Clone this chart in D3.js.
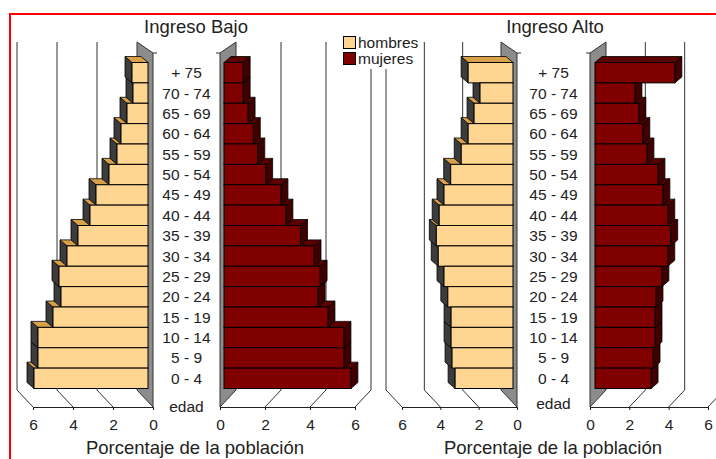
<!DOCTYPE html>
<html><head><meta charset="utf-8">
<script src="https://cdn.jsdelivr.net/npm/d3@7"></script>
<style>
html,body{margin:0;padding:0;background:#fff;}
svg{display:block;font-family:"Liberation Sans",Arial,sans-serif;}
</style></head>
<body><svg id="c" width="716" height="459"></svg>
<script>
const categories = ["+ 75","70 - 74","65 - 69","60 - 64","55 - 59","50 - 54","45 - 49","40 - 44","35 - 39","30 - 34","25 - 29","20 - 24","15 - 19","10 - 14","5 - 9","0 - 4"];
const bajoHombres = [0.8,0.75,1.05,1.35,1.55,1.95,2.6,2.9,3.5,4.05,4.45,4.35,4.75,5.5,5.5,5.7];
const bajoMujeres = [0.85,0.85,1.07,1.3,1.5,1.85,2.53,2.75,3.4,4.0,4.27,4.18,4.62,5.33,5.33,5.64];
const altoHombres = [2.34,1.72,2.03,2.34,2.7,3.25,3.6,3.85,4.0,3.9,3.6,3.4,3.23,3.23,3.18,3.02];
const altoMujeres = [4.06,2.03,2.23,2.43,2.64,3.2,3.45,3.7,3.85,3.7,3.4,3.1,3.05,3.05,2.95,2.85];
const tickValues = [0,2,4,6];
const seriesNames = ["hombres","mujeres"];
const panelTitles = ["Ingreso Bajo","Ingreso Alto"];
const axisTitle = "Porcentaje de la población";
const ageTitle = "edad";

const svg = d3.select("#c");
svg.append("rect").attr("width",716).attr("height",459).attr("fill","#fff");
svg.append("rect").attr("x",10).attr("y",14).attr("width",740).attr("height",480)
  .attr("fill","none").attr("stroke","#f00").attr("stroke-width",2);

const COL = {
  hombres:{front:"#FFD592", side:"#3c3c3c", top:"#D9A04C"},
  mujeres:{front:"#800000", side:"#400000", top:"#5a0000"}
};
const y = d3.scaleBand().domain(categories).range([62.5,388.5]).paddingInner(0).paddingOuter(0);
const WALL_DX = 16, BACK_TOP = 42, FRONT_TOP = 53, BACK_BOTTOM = 390, FLOOR = 407;
const BAR_DX = 7, BAR_DY = 6;
const FONT = 15.5;

function half(parent, x, dir, vals, barOff, col){
  const g = parent.append("g");
  const x0f = x(0), x0b = x(0) + dir*WALL_DX;
  tickValues.filter(v=>v>0).forEach(v=>{
    const xf = x(v), xb = x(v)+dir*WALL_DX;
    g.append("path").attr("d",`M${xb},${BACK_TOP}V${BACK_BOTTOM}L${xf},${FLOOR}`)
      .attr("fill","none").attr("stroke","#333").attr("stroke-width",1);
  });
  g.append("path").attr("d",`M${x0f},${FRONT_TOP}L${x0b},${BACK_TOP}V${BACK_BOTTOM}L${x0f},${FLOOR}Z`)
    .attr("fill","#8c8c8c").attr("stroke","#333").attr("stroke-width",1);
  g.append("path").attr("d",`M${x0f},${FRONT_TOP}h${-dir*4}`).attr("stroke","#333").attr("stroke-width",1);
  const ax = d3.axisBottom(x).tickValues(tickValues).tickSize(3).tickSizeOuter(0).tickPadding(9).tickFormat(d3.format("d"));
  const ag = g.append("g").attr("transform",`translate(0,${FLOOR})`).call(ax);
  ag.select(".domain").attr("stroke","#222");
  ag.selectAll(".tick line").attr("stroke","#222");
  ag.selectAll("text").attr("font-size",FONT).attr("fill","#222").attr("font-family","Liberation Sans, Arial, sans-serif");
  const bars = categories.map((c,i)=>({c, v:vals[i], yt:y(c), h:y.bandwidth(), x0:x(0)+barOff, x1:x(vals[i])+barOff}));
  const back = g.append("g"), front = g.append("g");
  bars.slice().reverse().forEach(b=>{
    back.append("path").attr("d",`M${b.x1},${b.yt}L${b.x1+dir*BAR_DX},${b.yt-BAR_DY}V${b.yt+b.h-BAR_DY}L${b.x1},${b.yt+b.h}Z`)
      .attr("fill",col.side).attr("stroke","#000").attr("stroke-width",0.8);
    back.append("path").attr("d",`M${b.x0},${b.yt}H${b.x1}L${b.x1+dir*BAR_DX},${b.yt-BAR_DY}H${b.x0+dir*BAR_DX}Z`)
      .attr("fill",col.top).attr("stroke","#000").attr("stroke-width",0.8);
  });
  front.selectAll("rect").data(bars).join("rect")
    .attr("x",d=>Math.min(d.x0,d.x1)).attr("y",d=>d.yt)
    .attr("width",d=>Math.abs(d.x1-d.x0)).attr("height",d=>d.h)
    .attr("fill",col.front).attr("stroke","#000").attr("stroke-width",1);
}

function panel(opt){
  const g = svg.append("g");
  const xH = d3.scaleLinear().domain([0,6]).range(opt.hRange);
  const xM = d3.scaleLinear().domain([0,6]).range(opt.mRange);
  half(g, xH, -1, opt.hom, opt.hOff, COL.hombres);
  half(g, xM, 1, opt.muj, opt.mOff, COL.mujeres);
  const cx = (xH(0)+xM(0))/2;
  const tg = g.append("g");
  tg.selectAll("text").data(categories).join("text")
    .attr("x",cx).attr("y",d=>y(d)+y.bandwidth()/2+5.5).attr("text-anchor","middle")
    .attr("font-size",FONT).attr("fill","#222").text(d=>d);
  g.append("text").attr("x",cx).attr("y",opt.edadY).attr("text-anchor","middle")
    .attr("font-size",FONT).attr("fill","#222").text(ageTitle);
  g.append("text").attr("x",opt.titleX).attr("y",33).attr("text-anchor","middle")
    .attr("font-size",18.5).attr("fill","#222").text(opt.title);
  g.append("text").attr("x",opt.axisX).attr("y",453.5).attr("text-anchor","middle")
    .attr("font-size",18.5).attr("fill","#222").text(axisTitle);
}

panel({title:panelTitles[0], titleX:196, axisX:195, hRange:[153,33], mRange:[220,355], hOff:-5, mOff:4, hom:bajoHombres, muj:bajoMujeres, edadY:412});
panel({title:panelTitles[1], titleX:555, axisX:553, hRange:[517,402], mRange:[590,708], hOff:-4, mOff:5, hom:altoHombres, muj:altoMujeres, edadY:409});

const lg = svg.append("g");
lg.append("rect").attr("x",338).attr("y",31).attr("width",82).attr("height",38).attr("fill","#fff");
seriesNames.forEach((s,i)=>{
  lg.append("rect").attr("x",343.5).attr("y",36.5+i*16).attr("width",12).attr("height",12)
    .attr("fill",COL[s].front).attr("stroke","#000").attr("stroke-width",1);
  lg.append("text").attr("x",358).attr("y",48+i*16).attr("font-size",FONT).attr("fill","#222").text(s);
});
</script></body></html>
